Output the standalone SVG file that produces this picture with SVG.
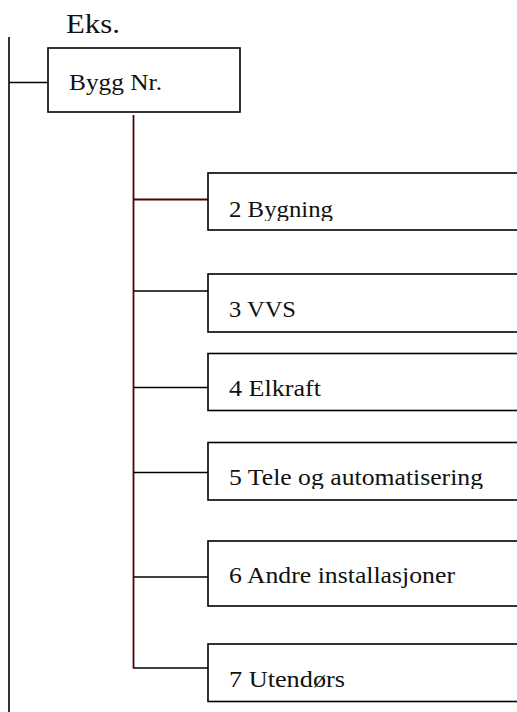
<svg xmlns="http://www.w3.org/2000/svg" width="517" height="712" viewBox="0 0 517 712">
<style>
.box{fill:#fff;stroke:#000;stroke-width:1.6}
.t{font-family:"Liberation Serif","Times New Roman",serif;font-size:23px;fill:#111}
.ln{stroke:#000;stroke-width:1.6;fill:none}
.rd{stroke:#4a0606;stroke-width:1.8;fill:none}
</style>
<defs>
<clipPath id="c2"><rect x="208" y="173" width="320" height="48"/></clipPath>
<clipPath id="c5"><rect x="208" y="442" width="320" height="47"/></clipPath>
</defs>
<rect width="517" height="712" fill="#fff"/>
<text x="66" y="33" class="t" style="font-size:27px" textLength="54" lengthAdjust="spacingAndGlyphs">Eks.</text>
<g id="connectors">
<line class="ln" x1="9" y1="37" x2="9" y2="712"/>
<line class="ln" x1="9" y1="82.5" x2="48" y2="82.5"/>
<line class="rd" x1="133.5" y1="115" x2="133.5" y2="668.5"/>
<line class="rd" x1="133.5" y1="199.5" x2="208" y2="199.5"/>
<line class="ln" x1="133.5" y1="291" x2="208" y2="291"/>
<line class="ln" x1="133.5" y1="387.5" x2="208" y2="387.5"/>
<line class="ln" x1="133.5" y1="472.5" x2="208" y2="472.5"/>
<line class="ln" x1="133.5" y1="577" x2="208" y2="577"/>
<line class="ln" x1="133.5" y1="668" x2="208" y2="668"/>
</g>
<g id="bygg"><rect class="box" x="48" y="48" width="192" height="64"/><text class="t" x="69" y="90" textLength="93" lengthAdjust="spacingAndGlyphs">Bygg Nr.</text></g>
<g id="n2"><rect class="box" x="208" y="173" width="320" height="57"/><text class="t" x="229" y="217" clip-path="url(#c2)" textLength="104" lengthAdjust="spacingAndGlyphs">2 Bygning</text></g>
<g id="n3"><rect class="box" x="208" y="274" width="320" height="58"/><text class="t" x="229" y="316.5" textLength="67" lengthAdjust="spacingAndGlyphs">3 VVS</text></g>
<g id="n4"><rect class="box" x="208" y="353.5" width="320" height="57"/><text class="t" x="229" y="396" textLength="92" lengthAdjust="spacingAndGlyphs">4 Elkraft</text></g>
<g id="n5"><rect class="box" x="208" y="442.5" width="320" height="57.5"/><text class="t" x="229" y="485" clip-path="url(#c5)" textLength="254" lengthAdjust="spacingAndGlyphs">5 Tele og automatisering</text></g>
<g id="n6"><rect class="box" x="208" y="541" width="320" height="65"/><text class="t" x="229" y="583" textLength="226" lengthAdjust="spacingAndGlyphs">6 Andre installasjoner</text></g>
<g id="n7"><rect class="box" x="208" y="644" width="320" height="57.5"/><text class="t" x="229" y="686.5" textLength="116" lengthAdjust="spacingAndGlyphs">7 Utendørs</text></g>
</svg>
